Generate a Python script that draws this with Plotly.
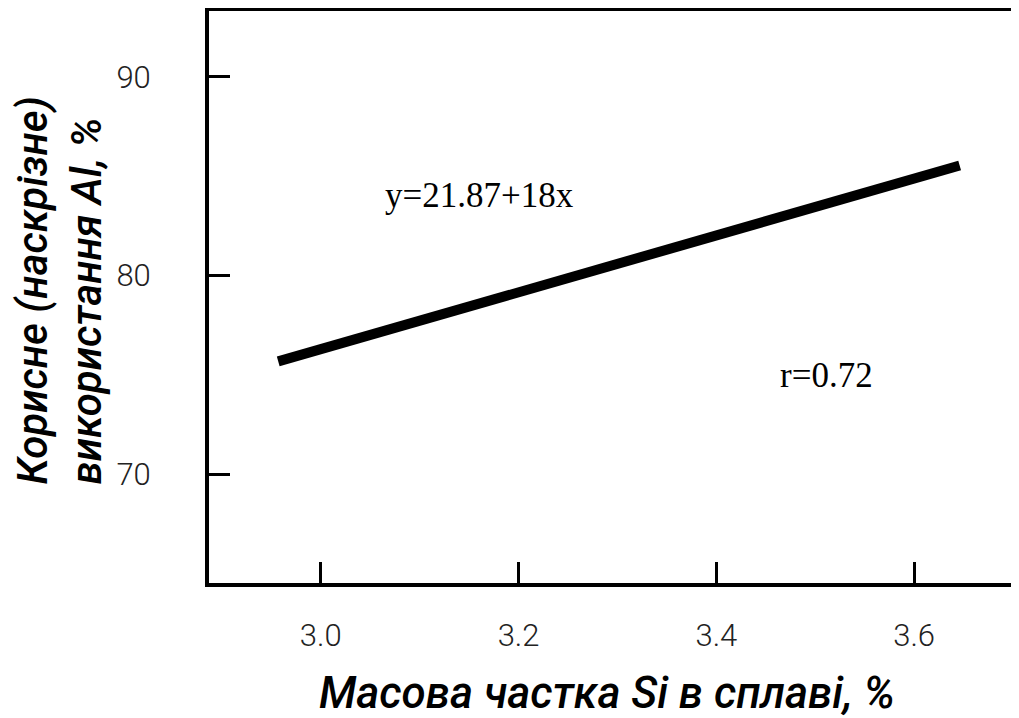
import plotly.graph_objects as go

# Data
line_x = [2.957, 3.646]
line_y = [75.67, 85.54]
x_ticks = [3.0, 3.2, 3.4, 3.6]
x_tick_labels = ["3.0", "3.2", "3.4", "3.6"]
y_ticks = [70, 80, 90]
y_tick_labels = ["70", "80", "90"]
equation_text = "y=21.87+18x"
r_text = "r=0.72"
x_title = "Масова частка Si в сплаві, %"
y_title = "Корисне (наскрізне)<br>використання Al, %"

OFF = 8  # page body margin
W, H = 1019 - OFF, 718 - OFF
L, R, T, B = 209 - OFF, 0, 11 - OFF, H - (583 - OFF)
pw, ph = W - L - R, H - T - B

def px_x(p):  # p = screen pixel
    return (p - OFF - L) / pw

def px_y(p):
    return (H - B - (p - OFF)) / ph

sans = "Roboto, Open Sans, sans-serif"
serif = "Liberation Serif, Times New Roman, serif"

fig = go.Figure()
fig.add_trace(go.Scatter(x=line_x, y=line_y, mode="lines",
                         line=dict(color="black", width=10),
                         showlegend=False, hoverinfo="skip"))

fig.update_layout(
    width=W, height=H,
    margin=dict(l=L, r=R, t=T, b=B, pad=0, autoexpand=False),
    paper_bgcolor="white", plot_bgcolor="white",
    showlegend=False,
)
fig.update_xaxes(
    range=[2.887, 3.706], tickvals=x_ticks, ticktext=x_tick_labels,
    ticks="inside", ticklen=21, tickwidth=3, tickcolor="black",
    showline=True, linewidth=4, linecolor="black", mirror=True,
    showgrid=False, zeroline=False, automargin=False,
    tickfont=dict(family=sans, size=31, color="#222", weight=300),
    ticklabelstandoff=22,
)
fig.update_yaxes(
    range=[64.51, 93.32], tickvals=y_ticks, ticktext=y_tick_labels,
    ticks="inside", ticklen=21, tickwidth=3, tickcolor="black",
    showline=True, linewidth=4, linecolor="black", mirror=False,
    showgrid=False, zeroline=False, automargin=False,
    tickfont=dict(family=sans, size=31, color="#222", weight=300),
    ticklabelstandoff=48,
)

fig.add_annotation(text=equation_text, xref="paper", yref="paper",
                   x=px_x(383), y=px_y(195), xanchor="left", yanchor="middle",
                   showarrow=False, font=dict(family=serif, size=35, color="black"))
fig.add_annotation(text=r_text, xref="paper", yref="paper",
                   x=px_x(778), y=px_y(375), xanchor="left", yanchor="middle",
                   showarrow=False, font=dict(family=serif, size=35, color="black"))
fig.add_annotation(text="<i>" + x_title + "</i>", xref="paper", yref="paper",
                   x=px_x(607), y=px_y(693), xanchor="center", yanchor="middle",
                   showarrow=False, font=dict(family=sans, size=44, color="black", weight=500))
fig.add_annotation(text="<i>" + y_title + "</i>", xref="paper", yref="paper",
                   x=px_x(59.5), y=px_y(487), xanchor="center", yanchor="bottom",
                   textangle=-90, align="left",
                   showarrow=False, font=dict(family=sans, size=42, color="black", weight=500))

fig.write_html("out.html")
